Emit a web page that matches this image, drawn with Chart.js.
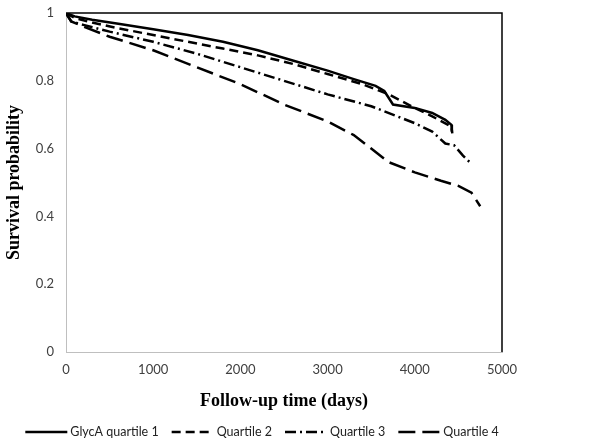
<!DOCTYPE html>
<html>
<head>
<meta charset="utf-8">
<script src="https://cdn.jsdelivr.net/npm/chart.js@4"></script>
<style>
  html, body { margin: 0; padding: 0; background: #fff; }
  #wrap { width: 603px; height: 447px; }
</style>
</head>
<body>
<div id="wrap"><canvas id="km" width="603" height="447"></canvas></div>
<script>
// series (days, survival probability)
const seriesNames = ["GlycA quartile 1", "Quartile 2", "Quartile 3", "Quartile 4"];

const q1Days = [0, 100, 300, 600, 1000, 1400, 1800, 2200, 2600, 3000, 3300, 3550, 3650, 3750, 4000, 4200, 4350, 4420, 4425];
const q1Surv = [1, 0.99, 0.98, 0.968, 0.952, 0.935, 0.915, 0.89, 0.86, 0.83, 0.805, 0.785, 0.77, 0.73, 0.72, 0.705, 0.685, 0.67, 0.65];

const q2Days = [0, 100, 300, 600, 1000, 1400, 1800, 2200, 2600, 3000, 3400, 3700, 4000, 4200, 4420, 4430];
const q2Surv = [1, 0.985, 0.972, 0.955, 0.935, 0.915, 0.895, 0.875, 0.85, 0.82, 0.79, 0.76, 0.72, 0.695, 0.665, 0.645];

const q3Days = [0, 60, 200, 500, 1000, 1500, 2000, 2500, 3000, 3500, 4000, 4200, 4350, 4450, 4550, 4650];
const q3Surv = [1, 0.975, 0.965, 0.945, 0.915, 0.88, 0.84, 0.8, 0.76, 0.725, 0.675, 0.65, 0.615, 0.61, 0.58, 0.555];

const q4Days = [0, 60, 200, 500, 1000, 1500, 2000, 2500, 3000, 3300, 3500, 3700, 4000, 4300, 4500, 4650, 4750];
const q4Surv = [1, 0.975, 0.96, 0.93, 0.89, 0.84, 0.79, 0.73, 0.68, 0.64, 0.6, 0.56, 0.53, 0.505, 0.49, 0.47, 0.43];

const xTicks = [0, 1000, 2000, 3000, 4000, 5000];

function pts(days, surv) {
  return days.map((d, i) => ({ x: d, y: surv[i] }));
}

const dashes = [[], [9, 5], [11, 4, 2, 4], [17, 7]];
const allData = [pts(q1Days, q1Surv), pts(q2Days, q2Surv), pts(q3Days, q3Surv), pts(q4Days, q4Surv)];

// plot frame: the top and right edges are black
const frame = {
  id: "frame",
  afterDatasetsDraw(chart) {
    const a = chart.chartArea;
    const ctx = chart.ctx;
    ctx.save();
    ctx.strokeStyle = "#000";
    ctx.lineWidth = 1.5;
    ctx.beginPath();
    ctx.moveTo(a.left, a.top);
    ctx.lineTo(a.right, a.top);
    ctx.lineTo(a.right, a.bottom);
    ctx.stroke();
    ctx.restore();
  }
};

// legend row under the axis title, line samples keep the dash patterns
const lineLegend = {
  id: "lineLegend",
  afterDraw(chart) {
    const ctx = chart.ctx;
    const sample = 42, gapText = 3, gapItem = 13, y = 432;
    ctx.save();
    ctx.font = "12.5px Lato";
    const widths = seriesNames.map(n => ctx.measureText(n).width);
    let total = 0;
    widths.forEach((w, i) => { total += sample + gapText + w + (i < widths.length - 1 ? gapItem : 0); });
    let x = 262 - total / 2;
    seriesNames.forEach((name, i) => {
      ctx.strokeStyle = "#000";
      ctx.lineWidth = 2.5;
      ctx.setLineDash(dashes[i]);
      ctx.beginPath();
      ctx.moveTo(x, y);
      ctx.lineTo(x + sample, y);
      ctx.stroke();
      ctx.setLineDash([]);
      ctx.fillStyle = "#222";
      ctx.textBaseline = "middle";
      ctx.fillText(name, x + sample + gapText, y);
      x += sample + gapText + widths[i] + gapItem;
    });
    ctx.restore();
  }
};

new Chart(document.getElementById("km").getContext("2d"), {
  type: "line",
  data: {
    datasets: allData.map((d, i) => ({
      label: seriesNames[i],
      data: d,
      borderColor: "#000",
      backgroundColor: "#000",
      borderWidth: 2.5,
      borderDash: dashes[i],
      pointRadius: 0,
      tension: 0,
      fill: false
    }))
  },
  options: {
    responsive: false,
    animation: false,
    layout: { padding: { top: 13, right: 101, left: 4, bottom: 35 } },
    scales: {
      x: {
        type: "linear",
        min: 0,
        max: 5000,
        afterBuildTicks: (s) => { s.ticks = xTicks.map(v => ({ value: v })); },
        afterFit: (s) => { s.height = 60; },
        grid: { display: false, drawTicks: false },
        border: { color: "#bfbfbf", width: 1 },
        ticks: {
          color: "#404040",
          font: { family: "Lato", size: 13 },
          padding: 10,
          maxRotation: 0,
          callback: (v) => String(v)
        },
        title: {
          display: true,
          text: "Follow-up time (days)",
          color: "#000",
          font: { family: "Liberation Serif", size: 18, weight: "bold" },
          padding: { top: 0, bottom: 0 }
        }
      },
      y: {
        min: 0,
        max: 1,
        afterFit: (s) => { s.width = 62; s.paddingTop = 0; s.paddingBottom = 0; },
        grid: { display: false, drawTicks: false },
        border: { color: "#bfbfbf", width: 1 },
        ticks: {
          stepSize: 0.2,
          color: "#404040",
          font: { family: "Lato", size: 13 },
          padding: 12,
          callback: (v) => String(Number(v.toFixed(1)))
        },
        title: {
          display: true,
          text: "Survival probability",
          color: "#000",
          font: { family: "Liberation Serif", size: 18, weight: "bold" },
          padding: { top: 0, bottom: 0 }
        }
      }
    },
    plugins: {
      legend: { display: false },
      tooltip: { enabled: false }
    }
  },
  plugins: [frame, lineLegend]
});
</script>
</body>
</html>
